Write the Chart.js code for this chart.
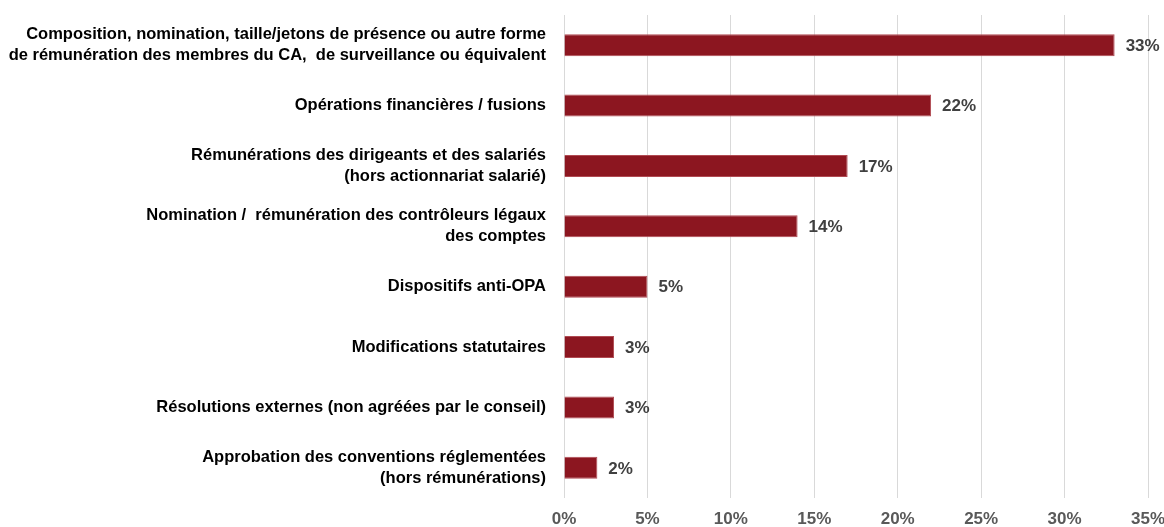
<!DOCTYPE html>
<html>
<head>
<meta charset="utf-8">
<script src="https://cdn.jsdelivr.net/npm/chart.js@4"></script>
<style>
  html, body { margin: 0; padding: 0; background: #fff; }
  #wrap { width: 1164px; height: 527px; position: relative; }
</style>
</head>
<body>
<div id="wrap"><canvas id="chart"></canvas></div>
<script>
// categories (multi-line labels as in the original)
const categories = [
  ["Composition, nomination, taille/jetons de présence ou autre forme", "de rémunération des membres du CA,  de surveillance ou équivalent"],
  "Opérations financières / fusions",
  ["Rémunérations des dirigeants et des salariés", "(hors actionnariat salarié)"],
  ["Nomination /  rémunération des contrôleurs légaux", "des comptes"],
  "Dispositifs anti-OPA",
  "Modifications statutaires",
  "Résolutions externes (non agréées par le conseil)",
  ["Approbation des conventions réglementées", "(hors rémunérations)"]
];
const values = [33, 22, 17, 14, 5, 3, 3, 2];
const tickMax = 35;
const tickStep = 5;

const FONT = "'Liberation Sans', Arial, sans-serif";

// draws "33%" after the end of each bar
const valueLabels = {
  id: 'valueLabels',
  afterDatasetsDraw(chart) {
    const ctx = chart.ctx;
    const meta = chart.getDatasetMeta(0);
    ctx.save();
    ctx.font = "bold 17px " + FONT;
    ctx.fillStyle = '#404040';
    ctx.textAlign = 'left';
    ctx.textBaseline = 'middle';
    meta.data.forEach((bar, i) => {
      ctx.fillText(values[i] + '%', bar.x + 11, bar.y + 1);
    });
    ctx.restore();
  }
};

const ctx = document.getElementById('chart');
const chart = new Chart(ctx, {
  type: 'bar',
  data: {
    labels: categories,
    datasets: [{
      data: values,
      backgroundColor: '#8c1620',
      borderColor: '#b04a52',
      borderWidth: 1,
      barPercentage: 0.364,
      categoryPercentage: 1
    }]
  },
  options: {
    indexAxis: 'y',
    responsive: true,
    maintainAspectRatio: false,
    animation: false,
    layout: { padding: { top: 15, right: 16, bottom: 0, left: 0 } },
    plugins: {
      legend: { display: false },
      tooltip: { enabled: false }
    },
    scales: {
      x: {
        min: 0,
        max: tickMax,
        afterFit(scale) {
          scale.height = 29;
          scale.paddingLeft = 0;
          scale.paddingRight = 0;
        },
        ticks: {
          stepSize: tickStep,
          callback: v => v + '%',
          color: '#595959',
          font: { family: FONT, size: 17, weight: 'bold', lineHeight: 1.2 },
          padding: 11
        },
        grid: { color: '#d9d9d9', lineWidth: 1, drawTicks: false },
        border: { display: false }
      },
      y: {
        afterFit(scale) {
          scale.width = 564;
          scale.paddingTop = 0;
          scale.paddingBottom = 0;
        },
        ticks: {
          color: '#000000',
          font: { family: FONT, size: 16.5, weight: 'bold', lineHeight: 1.27 },
          padding: 18
        },
        grid: { display: false, drawTicks: false },
        border: { display: false }
      }
    }
  },
  plugins: [valueLabels]
});
</script>
</body>
</html>
